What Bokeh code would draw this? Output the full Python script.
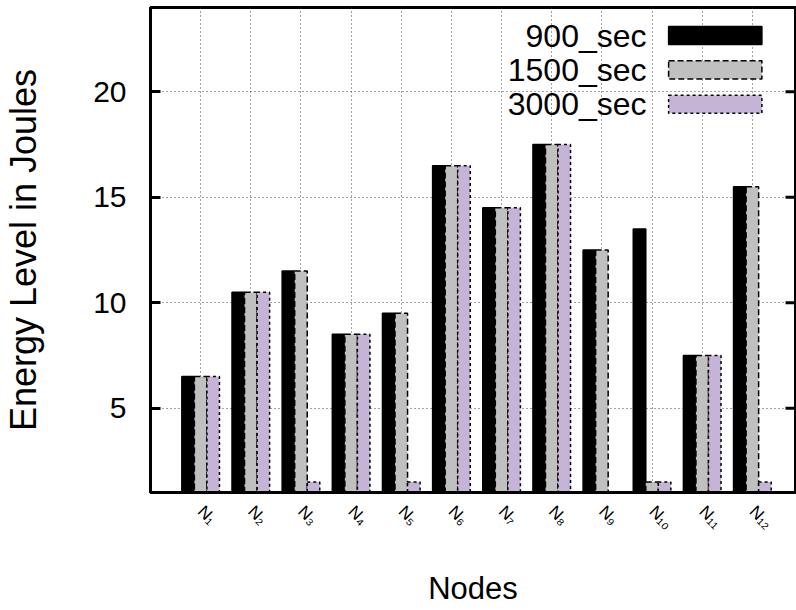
import math
from bokeh.plotting import figure
from bokeh.models import Range1d, FixedTicker, Label, BoxAnnotation
from bokeh.embed import file_html
from bokeh.resources import INLINE

# ---- data ----
nodes = ["N₁", "N₂", "N₃", "N₄", "N₅", "N₆", "N₇", "N₈", "N₉", "N₁₀", "N₁₁", "N₁₂"]
series_names = ["900_sec", "1500_sec", "3000_sec"]
s900 = [6.5, 10.5, 11.5, 8.5, 9.5, 16.5, 14.5, 17.5, 12.5, 13.5, 7.5, 15.5]
s1500 = [6.5, 10.5, 11.5, 8.5, 9.5, 16.5, 14.5, 17.5, 12.5, 1.5, 7.5, 15.5]
s3000 = [6.5, 10.5, 1.5, 8.5, 1.5, 16.5, 14.5, 17.5, 0.0, 1.5, 7.5, 1.5]
y_ticks = [5, 10, 15, 20]

# ---- styles ----
FONT = "Liberation Sans"
fills = ["#000000", "#c0c0c0", "#c6b4d8"]
dashes = ["solid", "6 3", "3 3"]
offsets = [-0.25, 0.0, 0.25]
bar_w = 0.25
X0, X1 = -1, 11.86

p = figure(width=796, height=610, output_backend="svg", toolbar_location=None,
           x_range=Range1d(X0, X1), y_range=Range1d(1, 24),
           min_border_left=147, min_border_top=7, min_border_right=1, min_border_bottom=118)
p.background_fill_color = "white"
p.border_fill_color = "white"
p.outline_line_color = "black"
p.outline_line_width = 3

xs = list(range(len(nodes)))
for vals, fc, dash, off in zip([s900, s1500, s3000], fills, dashes, offsets):
    p.vbar(x=[x + off for x in xs], top=vals, bottom=0, width=bar_w,
           fill_color=fc, line_color="black", line_width=1.5, line_dash=dash)

# grid
p.xgrid.ticker = FixedTicker(ticks=xs)
p.ygrid.ticker = FixedTicker(ticks=y_ticks)
for g in (p.xgrid, p.ygrid):
    g.grid_line_color = "#444444"
    g.grid_line_dash = "1 3"
    g.grid_line_width = 1

# x axis
xa = p.xaxis[0]
xa.ticker = FixedTicker(ticks=xs)
xa.major_label_overrides = {i: n for i, n in enumerate(nodes)}
xa.major_label_orientation = -math.pi / 4
xa.major_tick_in = 0
xa.major_tick_out = 0
xa.minor_tick_line_color = None
xa.axis_line_width = 3
xa.axis_line_color = "black"
xa.major_label_text_font = FONT
xa.major_label_text_font_size = "17px"
xa.major_label_text_color = "black"
xa.major_label_standoff = 16
xa.axis_label = "Nodes"
xa.axis_label_text_font = FONT
xa.axis_label_text_font_style = "normal"
xa.axis_label_text_font_size = "31px"
xa.axis_label_text_color = "black"
xa.axis_label_standoff = 28

# y axis
ya = p.yaxis[0]
ya.ticker = FixedTicker(ticks=y_ticks)
ya.major_tick_in = 10
ya.major_tick_out = 0
ya.major_tick_line_width = 3
ya.major_tick_line_color = "black"
ya.minor_tick_line_color = None
ya.axis_line_width = 3
ya.axis_line_color = "black"
ya.major_label_text_font = FONT
ya.major_label_text_font_size = "30px"
ya.major_label_text_color = "black"
ya.major_label_standoff = 24
ya.axis_label = "Energy Level in Joules"
ya.axis_label_text_font = FONT
ya.axis_label_text_font_style = "normal"
ya.axis_label_text_font_size = "36px"
ya.axis_label_text_color = "black"
ya.axis_label_standoff = 46

# mirrored ticks on the right edge (derived from the y tick list)
tick_len = 10 / 50.4
p.segment(x0=[X1] * len(y_ticks), y0=y_ticks, x1=[X1 - tick_len] * len(y_ticks), y1=y_ticks,
          line_color="black", line_width=3)

# legend (manual, gnuplot style: text right-aligned, swatch to the right)
leg_text_x = 8.89
leg_box_left, leg_box_right = 9.33, 11.19
leg_row0, leg_step, leg_half = 22.67, 1.63, 0.43
for i, (name, fc, dash) in enumerate(zip(series_names, fills, dashes)):
    yc = leg_row0 - i * leg_step
    p.add_layout(BoxAnnotation(left=leg_box_left, right=leg_box_right,
                               bottom=yc - leg_half, top=yc + leg_half,
                               fill_color=fc, fill_alpha=1.0, line_color="black",
                               line_width=1.5, line_dash=dash, line_alpha=1.0))
    p.add_layout(Label(x=leg_text_x, y=yc, text=name, text_align="right",
                       text_baseline="middle", text_font=FONT, text_font_size="32px",
                       text_color="black"))

open("out.html", "w").write(file_html(p, INLINE))
